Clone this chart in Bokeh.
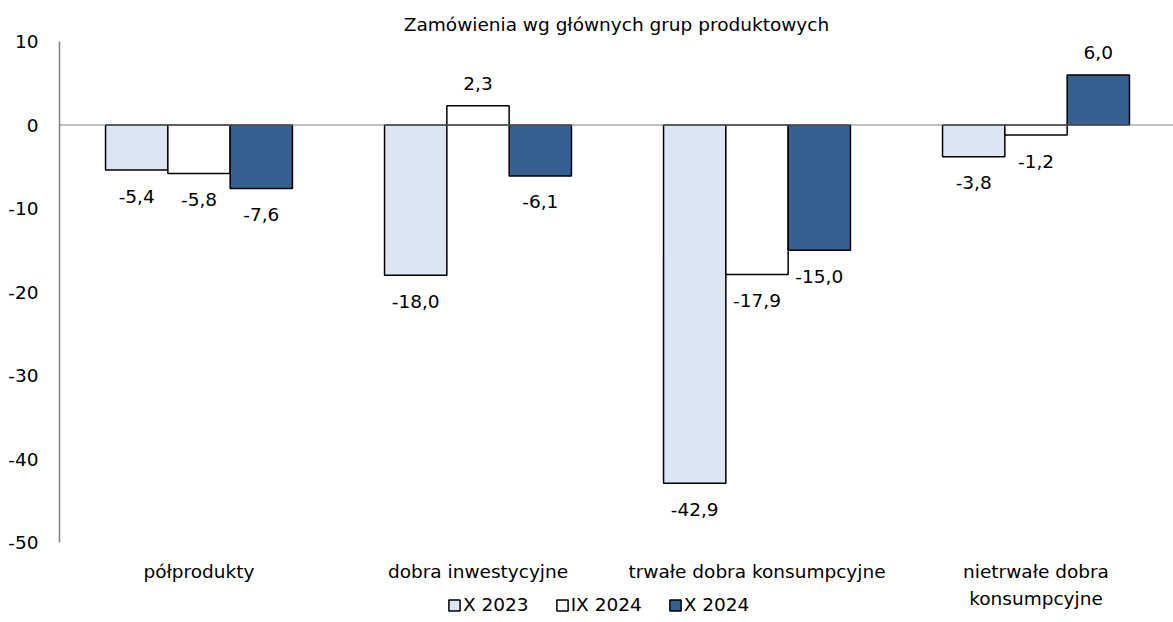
from bokeh.plotting import figure
from bokeh.models import ColumnDataSource, FixedTicker, Span, Legend, LegendItem
from bokeh.core.properties import value
from bokeh.embed import file_html
from bokeh.resources import INLINE

categories = ["półprodukty", "dobra inwestycyjne", "trwałe dobra konsumpcyjne", "nietrwałe dobra\nkonsumpcyjne"]
series_names = ["X 2023", "IX 2024", "X 2024"]
x2023 = [-5.4, -18.0, -42.9, -3.8]
ix2024 = [-5.8, 2.3, -17.9, -1.2]
x2024 = [-7.6, -6.1, -15.0, 6.0]
y_ticks = [10, 0, -10, -20, -30, -40, -50]

series_values = [x2023, ix2024, x2024]
fills = ["#DCE6F2", "#FFFFFF", "#376092"]
FONT = "DejaVu Sans"
FS = "18.5px"

W, H = 1173, 622
LEFT, TOP = 59, 41
CAT_PX = 279
frame_w = W - LEFT
frame_h = H - TOP
px_per_unit = 501 / 60.0
y_top = max(y_ticks)
y_bottom = y_top - frame_h / px_per_unit

p = figure(width=W, height=H, output_backend="svg", toolbar_location=None,
           x_range=(0, frame_w / CAT_PX), y_range=(y_bottom, y_top),
           min_border_left=LEFT, min_border_right=0, min_border_top=TOP, min_border_bottom=0,
           title="Zamówienia wg głównych grup produktowych")
p.title.align = "center"
p.title.text_font = FONT
p.title.text_font_size = FS
p.title.text_font_style = "normal"
p.title.text_color = "black"
p.title.standoff = 14
p.outline_line_color = None
p.grid.visible = False
p.background_fill_color = "white"
p.xaxis.visible = False

zero = Span(location=0, dimension="width", line_color="#808080", line_width=1)
p.add_layout(zero)

bw = 62.3 / CAT_PX
offsets = [-bw, 0, bw]
items = []
for name, vals, fc, off in zip(series_names, series_values, fills, offsets):
    xs = [i + 0.5 + off for i in range(len(categories))]
    labels = [f"{v:.1f}".replace(".", ",") for v in vals]
    yoff = [-22 if v > 0 else 26 for v in vals]
    src = ColumnDataSource(dict(x=xs, top=vals, label=labels, yoff=yoff))
    r = p.vbar(x="x", top="top", bottom=0, width=bw, source=src,
               fill_color=fc, line_color="black", line_width=1.5)
    p.text(x="x", y="top", text="label", source=src, y_offset="yoff",
           text_align="center", text_baseline="middle",
           text_font=value(FONT), text_font_size=FS, text_color="black")
    items.append(LegendItem(label=name, renderers=[r]))

# category labels under the value axis
cat_src = ColumnDataSource(dict(x=[i + 0.5 for i in range(len(categories))],
                                y=[min(y_ticks)] * len(categories), text=categories))
p.text(x="x", y="y", text="text", source=cat_src, y_offset=18,
       text_align="center", text_baseline="top", line_height=1.3,
       text_font=value(FONT), text_font_size=FS, text_color="black")

yax = p.yaxis[0]
yax.ticker = FixedTicker(ticks=y_ticks)
yax.major_label_overrides = {t: str(t) for t in y_ticks}
yax.bounds = (min(y_ticks), max(y_ticks))
yax.axis_line_color = "#808080"
yax.axis_line_width = 1.5
yax.major_tick_line_color = None
yax.minor_tick_line_color = None
yax.major_tick_out = 0
yax.major_tick_in = 0
yax.major_label_standoff = 21
yax.major_label_text_font = FONT
yax.major_label_text_font_size = FS
yax.major_label_text_color = "black"

legend = Legend(items=items, orientation="horizontal", location=(388, 7),
                glyph_width=14, glyph_height=14, label_standoff=2, spacing=26,
                padding=0, margin=0, border_line_color=None, background_fill_alpha=0,
                label_text_font=FONT, label_text_font_size=FS, label_text_color="black",
                label_height=16)
p.add_layout(legend, "center")

open("out.html", "w").write(file_html(p, INLINE))
